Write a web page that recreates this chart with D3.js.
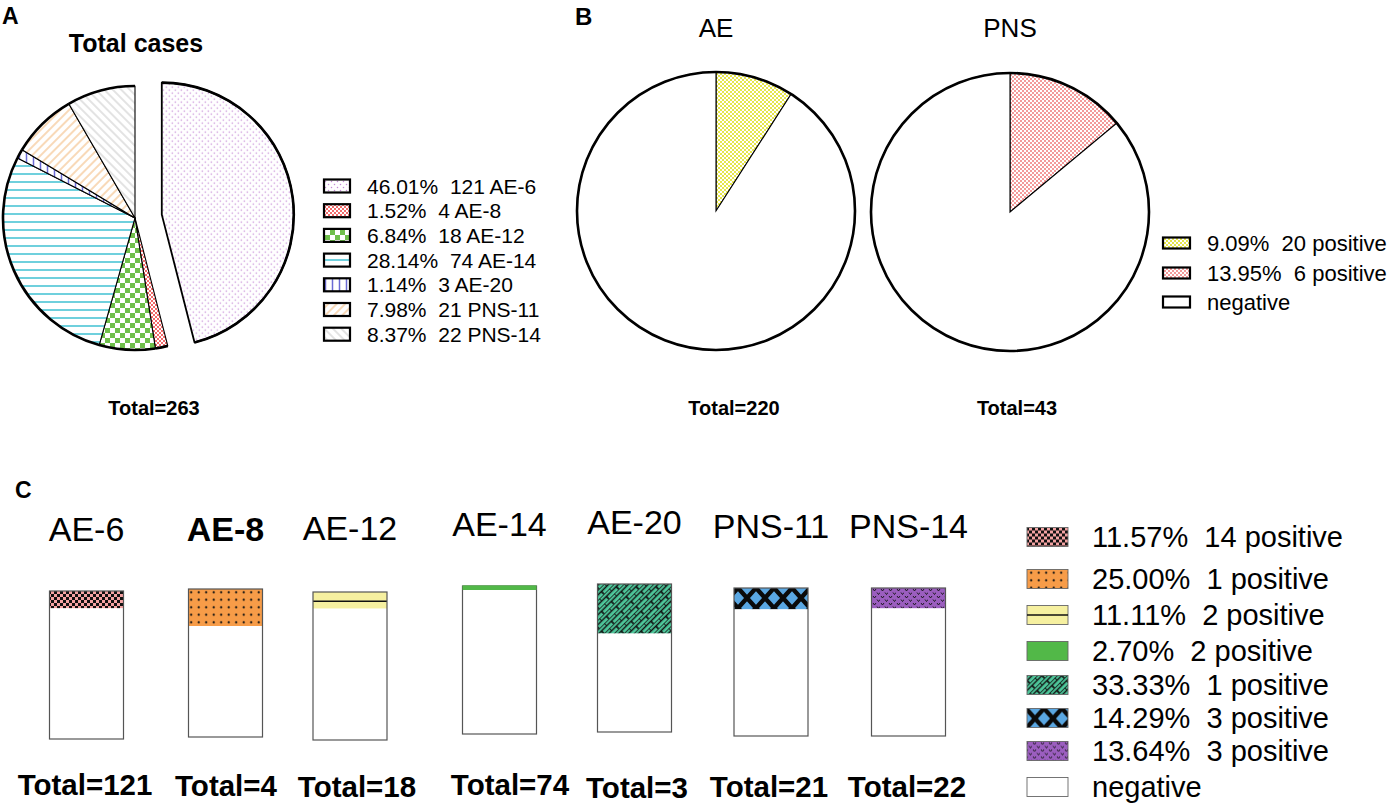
<!DOCTYPE html>
<html><head><meta charset="utf-8">
<script src="https://cdn.jsdelivr.net/npm/d3@7"></script>
<style>
body{margin:0;background:#fff}
svg{display:block}
text{font-family:Arial,"Liberation Sans",Helvetica,sans-serif;fill:#000;white-space:pre}
</style>
</head><body><svg id="chart" width="1394" height="805"></svg>
<script>
// ---------- DATA ----------
const caseCategories = ["AE-6","AE-8","AE-12","AE-14","AE-20","PNS-11","PNS-14"];
const caseCounts = [121,4,18,74,3,21,22];
const casePercents = ["46.01%","1.52%","6.84%","28.14%","1.14%","7.98%","8.37%"];
const caseTotal = 263;

const groupNames = ["AE","PNS"];
const groupTotals = [220,43];
const groupPositive = [20,6];
const groupPercents = ["9.09%","13.95%"];

const barCategories = ["AE-6","AE-8","AE-12","AE-14","AE-20","PNS-11","PNS-14"];
const barTotals = [121,4,18,74,3,21,22];
const barPositive = [14,1,2,2,1,3,3];
const barPercents = ["11.57%","25.00%","11.11%","2.70%","33.33%","14.29%","13.64%"];

// ---------- LAYOUT ----------
const svg = d3.select("#chart");
const defs = svg.append("defs");
function pattern(id, w, h, bg, draw, opts={}) {
  const p = defs.append("pattern").attr("id", id)
    .attr("patternUnits","userSpaceOnUse").attr("width",w).attr("height",h);
  if (opts.transform) p.attr("patternTransform", opts.transform);
  if (opts.x != null) p.attr("x", opts.x);
  if (opts.y != null) p.attr("y", opts.y);
  if (bg) p.append("rect").attr("width",w).attr("height",h).attr("fill",bg);
  if (draw) draw(p);
  return "url(#" + id + ")";
}
// Panel A patterns
const patA = [
  pattern("a6",6,6,"#fff",p=>{p.append("circle").attr("cx",1.5).attr("cy",1.5).attr("r",0.75).attr("fill","#c58ad6");p.append("circle").attr("cx",4.5).attr("cy",4.5).attr("r",0.75).attr("fill","#c58ad6");}),
  pattern("a8",4,4,"#f26b6b",p=>{p.append("rect").attr("width",2).attr("height",2).attr("fill","#fff");p.append("rect").attr("x",2).attr("y",2).attr("width",2).attr("height",2).attr("fill","#fff");}),
  pattern("a12",10,10,"#fff",p=>{p.append("rect").attr("width",5).attr("height",5).attr("fill","#6fbf4b");p.append("rect").attr("x",5).attr("y",5).attr("width",5).attr("height",5).attr("fill","#6fbf4b");}),
  pattern("a14",8,8,"#fff",p=>{p.append("line").attr("x1",0).attr("x2",8).attr("y1",4).attr("y2",4).attr("stroke","#6fd0dd").attr("stroke-width",2);}),
  pattern("a20",7,7,"#fff",p=>{p.append("line").attr("y1",0).attr("y2",7).attr("x1",3.5).attr("x2",3.5).attr("stroke","#6b6bd4").attr("stroke-width",1.5);}),
  pattern("a11",6,6,"#fff",p=>{p.append("line").attr("x1",0).attr("x2",6).attr("y1",3).attr("y2",3).attr("stroke","#f5c99a").attr("stroke-width",1.4);},{transform:"rotate(-45)"}),
  pattern("a14b",6,6,"#fff",p=>{p.append("line").attr("x1",0).attr("x2",6).attr("y1",3).attr("y2",3).attr("stroke","#d0d0d0").attr("stroke-width",1.2);},{transform:"rotate(45)"})
];
// Panel B patterns
const patB = [
  pattern("bae",4,4,"#e6e64a",p=>{p.append("rect").attr("width",2).attr("height",2).attr("fill","#fff");p.append("rect").attr("x",2).attr("y",2).attr("width",2).attr("height",2).attr("fill","#fff");}),
  pattern("bpns",4,4,"#f39a9a",p=>{p.append("rect").attr("width",2).attr("height",2).attr("fill","#fff");p.append("rect").attr("x",2).attr("y",2).attr("width",2).attr("height",2).attr("fill","#fff");})
];
// Panel C patterns
function patC(suffix, i, oy) {
  switch(i){
    case 0: return pattern("c0"+suffix,6,6,"#f4a3a3",p=>{p.append("rect").attr("width",3).attr("height",3).attr("fill","#111");p.append("rect").attr("x",3).attr("y",3).attr("width",3).attr("height",3).attr("fill","#111");},{y:oy});
    case 1: return pattern("c1"+suffix,7.5,7.5,"#f79c48",p=>{p.append("circle").attr("cx",3.7).attr("cy",3.2).attr("r",1.1).attr("fill","#111");},{y:oy});
    case 2: return "#f6f0a0";
    case 3: return "#52b848";
    case 4: return pattern("c4"+suffix,14,7,"#4ec99c",p=>{p.append("path").attr("d","M0,0H14M0,0V3.5M7,3.5V7M0,3.5H14").attr("stroke","#111").attr("stroke-width",1.7).attr("fill","none");},{transform:"rotate(-45)"});
    case 5: return pattern("c5"+suffix,18,20,"#5aa7e2",p=>{p.append("path").attr("d","M0,0L18,20M18,0L0,20").attr("stroke","#0a0a0a").attr("stroke-width",4.5);},{y:oy,x:0});
    case 6: return pattern("c6"+suffix,8,7,"#9b5ebf",p=>{p.append("path").attr("d","M1,1L2.5,3L4,1M5,4.5L6.5,6.5L8,4.5").attr("stroke","#111").attr("stroke-width",0.9).attr("fill","none");},{y:oy});
  }
}

// ---------- PANEL A ----------
svg.append("text").attr("x",2).attr("y",24).attr("font-size",23).attr("font-weight","bold").text("A");
svg.append("text").attr("x",136).attr("y",52).attr("text-anchor","middle").attr("font-size",25).attr("font-weight","bold").text("Total cases");

const rA = 132, explode = 27;
const pieA = d3.pie().sort(null).value(d=>d)(caseCounts);
const arcA = d3.arc().innerRadius(0).outerRadius(rA);
const gA = svg.append("g").attr("transform","translate(135,218)");
function offs(d,i){
  if(i!==0) return null;
  const m=(d.startAngle+d.endAngle)/2;
  return `translate(${explode*Math.sin(m)},${-explode*Math.cos(m)})`;
}
gA.selectAll("path.slice").data(pieA).join("path").attr("class","slice")
  .attr("d",arcA).attr("transform",offs)
  .attr("fill",(d,i)=>patA[i]).attr("stroke","#000").attr("stroke-width",(d,i)=>i===0?1.8:1.1).attr("stroke-linejoin","round");
gA.selectAll("path.rim").data(pieA).join("path").attr("class","rim")
  .attr("d",d=>d3.arc().innerRadius(rA).outerRadius(rA)(d)).attr("transform",offs)
  .attr("fill","none").attr("stroke","#000").attr("stroke-width",2.6);

svg.append("text").attr("x",154).attr("y",415).attr("text-anchor","middle").attr("font-size",20).attr("font-weight","bold").text("Total=" + caseTotal);

const legA = svg.append("g");
caseCategories.forEach((c,i)=>{
  const cy = 186 + i*24.7;
  legA.append("rect").attr("x",324).attr("y",cy-6.5).attr("width",26).attr("height",13)
    .attr("fill",patA[i]).attr("stroke","#000").attr("stroke-width",2.2);
  legA.append("text").attr("x",367).attr("y",cy).attr("dy","0.36em").attr("font-size",21)
    .text(`${casePercents[i]}  ${caseCounts[i]} ${c}`);
});

// ---------- PANEL B ----------
svg.append("text").attr("x",575).attr("y",25).attr("font-size",24).attr("font-weight","bold").text("B");
const rB = 139;
const centersB = [[716,211],[1010,212]];
const totalBCenter = [734,1017];
groupNames.forEach((g,i)=>{
  const [cx,cy] = centersB[i];
  svg.append("text").attr("x",cx).attr("y",37).attr("text-anchor","middle").attr("font-size",26).text(g);
  const pie = d3.pie().sort(null)([groupPositive[i], groupTotals[i]-groupPositive[i]]);
  const arc = d3.arc().innerRadius(0).outerRadius(rB);
  const gg = svg.append("g").attr("transform",`translate(${cx},${cy})`);
  gg.selectAll("path").data(pie).join("path").attr("d",arc)
    .attr("fill",(d,j)=>j===0?patB[i]:"#fff").attr("stroke","#000").attr("stroke-width",1.1);
  gg.append("circle").attr("r",rB).attr("fill","none").attr("stroke","#000").attr("stroke-width",2.6);
  svg.append("text").attr("x",totalBCenter[i]).attr("y",415).attr("text-anchor","middle").attr("font-size",20).attr("font-weight","bold").text("Total=" + groupTotals[i]);
});
const legBRows = [243,273,302];
const legBLabels = groupPercents.map((p,i)=>`${p}  ${groupPositive[i]} positive`).concat(["negative"]);
const legBFills = patB.concat(["#fff"]);
legBLabels.forEach((t,i)=>{
  svg.append("rect").attr("x",1163).attr("y",legBRows[i]-5.5).attr("width",27).attr("height",11)
    .attr("fill",legBFills[i]).attr("stroke","#000").attr("stroke-width",2.2);
  svg.append("text").attr("x",1207).attr("y",legBRows[i]).attr("dy","0.36em").attr("font-size",22).text(t);
});

// ---------- PANEL C ----------
svg.append("text").attr("x",15).attr("y",498).attr("font-size",23).attr("font-weight","bold").text("C");
const barCenter = d3.scaleOrdinal().domain(barCategories).range([86.5,225.5,350,499.5,634.5,771,908.5]);
const barTop = [591,589,592,586,584,588,588];
const titleBase = [541,541,540,536,534,538,538];
const totalCenter = [85,226,357,510,637,769,907];
const totalBase = [795,796,797,795,798,797,797];
const barW = 74, barH = 148;
barCategories.forEach((c,i)=>{
  const x0 = barCenter(c) - barW/2;
  const y = d3.scaleLinear().domain([0,1]).range([barTop[i]+barH, barTop[i]]);
  const frac = barPositive[i]/barTotals[i];
  svg.append("text").attr("x",barCenter(c)).attr("y",titleBase[i]).attr("text-anchor","middle")
    .attr("font-size",34).attr("font-weight",i===1?"bold":"normal").text(c);
  svg.append("rect").attr("x",x0).attr("y",y(1-frac)).attr("width",barW).attr("height",y(0)-y(1-frac)).attr("fill","#fff");
  svg.append("rect").attr("x",x0).attr("y",y(1)).attr("width",barW).attr("height",y(1-frac)-y(1))
    .attr("fill",patC("b",i,y(1)));
  if(i===2){
    const ym = (y(1)+y(1-frac))/2 + 1;
    svg.append("line").attr("x1",x0).attr("x2",x0+barW).attr("y1",ym).attr("y2",ym).attr("stroke","#111").attr("stroke-width",1.6);
  }
  svg.append("rect").attr("x",x0).attr("y",y(1)).attr("width",barW).attr("height",barH)
    .attr("fill","none").attr("stroke","#555").attr("stroke-width",1.2);
  if(i===3){
    svg.append("rect").attr("x",x0).attr("y",y(1)-0.6).attr("width",barW).attr("height",y(1-frac)-y(1)+0.6).attr("fill",patC("b",i,0));
  }
  svg.append("text").attr("x",totalCenter[i]).attr("y",totalBase[i]).attr("text-anchor","middle")
    .attr("font-size",29.5).attr("font-weight","bold").text("Total=" + barTotals[i]);
});
const legCRows = [537,579,615,651,685,718,751,787];
barPercents.forEach((p,i)=>{
  const cy = legCRows[i];
  svg.append("rect").attr("x",1027).attr("y",cy-9.5).attr("width",41).attr("height",19)
    .attr("fill",patC("l",i,cy-9.5)).attr("stroke","#666").attr("stroke-width",0.9);
  if(i===2) svg.append("line").attr("x1",1027).attr("x2",1068).attr("y1",cy).attr("y2",cy).attr("stroke","#111").attr("stroke-width",1.6);
  svg.append("text").attr("x",1092).attr("y",cy).attr("dy","0.36em").attr("font-size",29).text(`${p}  ${barPositive[i]} positive`);
});
svg.append("rect").attr("x",1027).attr("y",legCRows[7]-9.5).attr("width",41).attr("height",19)
  .attr("fill","#fff").attr("stroke","#666").attr("stroke-width",0.9);
svg.append("text").attr("x",1092).attr("y",legCRows[7]).attr("dy","0.36em").attr("font-size",29).text("negative");
</script>
</body></html>
